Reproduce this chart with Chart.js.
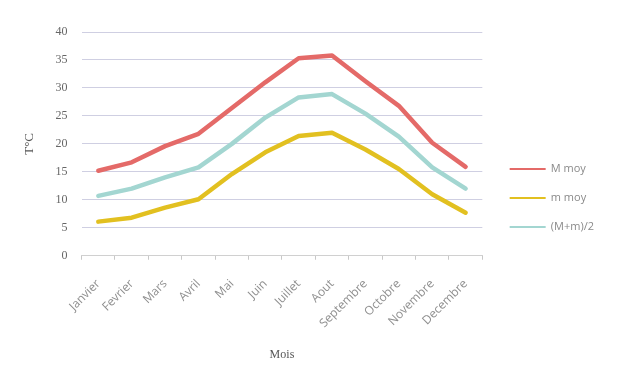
<!DOCTYPE html>
<html lang="fr">
<head>
    <meta charset="UTF-8">
    <title>Températures moyennes</title>
    <script src="https://cdn.jsdelivr.net/npm/chart.js"></script>
    <style>
        * { margin: 0; padding: 0; box-sizing: border-box; }
        body { background: #ffffff; width: 620px; height: 369px; overflow: hidden; }
        .wrap { position: relative; width: 620px; height: 369px; }
    </style>
</head>
<body>
    <div class="wrap"><canvas id="tempChart"></canvas></div>

    <script>
        const months = ["Janvier", "Fevrier", "Mars", "Avril", "Mai", "Juin",
                        "Juillet", "Aout", "Septembre", "Octobre", "Novembre", "Decembre"];
        const maxMoy = [15.2, 16.7, 19.6, 21.8, 26.4, 31, 35.3, 35.8, 31.2, 26.8, 20.2, 15.9];
        const minMoy = [6.1, 6.8, 8.6, 10.1, 14.6, 18.5, 21.4, 22, 19, 15.5, 11, 7.7];
        const avgMoy = [10.7, 12, 14, 15.8, 20, 24.7, 28.3, 28.9, 25.4, 21.3, 15.8, 12];
        const yTicks = [0, 5, 10, 15, 20, 25, 30, 35, 40];

        // push the legend a bit away from the plot, like the original
        const legendShift = {
            id: "legendShift",
            afterLayout(chart) {
                chart.legend.left += 10;
                chart.legend.right += 10;
            }
        };

        const ctx = document.getElementById("tempChart").getContext("2d");

        const tempChart = new Chart(ctx, {
            type: "line",
            data: {
                labels: months,
                datasets: [
                    { label: "M moy", data: maxMoy, borderColor: "#e46a68", backgroundColor: "#e46a68" },
                    { label: "m moy", data: minMoy, borderColor: "#e2c020", backgroundColor: "#e2c020" },
                    { label: "(M+m)/2", data: avgMoy, borderColor: "#a3d6d1", backgroundColor: "#a3d6d1" }
                ]
            },
            options: {
                responsive: true,
                maintainAspectRatio: false,
                animation: false,
                elements: {
                    line: { borderWidth: 4.5, tension: 0, borderCapStyle: "round", borderJoinStyle: "round" },
                    point: { radius: 0 }
                },
                layout: { padding: { left: 18, right: 26, top: 32, bottom: 5 } },
                plugins: {
                    legend: {
                        position: "right",
                        labels: {
                            boxWidth: 35,
                            boxHeight: 1,
                            padding: 18,
                            color: "#8a8a8a",
                            font: { family: "Open Sans", size: 11 },
                            generateLabels(chart) {
                                const items = Chart.defaults.plugins.legend.labels.generateLabels(chart);
                                items.forEach(it => { it.lineWidth = 1; });
                                return items;
                            }
                        }
                    },
                    tooltip: { enabled: false }
                },
                scales: {
                    x: {
                        offset: true,
                        grid: { drawOnChartArea: false, offset: true, tickLength: 4, color: "#c8c8c8" },
                        border: { color: "#d0d0d0" },
                        ticks: {
                            maxRotation: 45, minRotation: 45,
                            padding: 17,
                            color: "#8f8f8f",
                            font: { family: "Open Sans", size: 12 }
                        },
                        title: {
                            display: true, text: "Mois", color: "#555",
                            padding: { top: 0, bottom: 2 },
                            font: { family: "Liberation Serif", size: 12 }
                        }
                    },
                    y: {
                        min: 0, max: 40,
                        afterBuildTicks: (axis) => { axis.ticks = yTicks.map(v => ({ value: v })); },
                        grid: { color: "#cfcfe2", drawTicks: false },
                        border: { display: false },
                        ticks: {
                            padding: 14,
                            color: "#666",
                            font: { family: "Liberation Serif", size: 12 }
                        },
                        title: {
                            display: true, text: "T°C", color: "#555",
                            font: { family: "Liberation Serif", size: 13 }
                        }
                    }
                }
            },
            plugins: [legendShift]
        });
    </script>
</body>
</html>
